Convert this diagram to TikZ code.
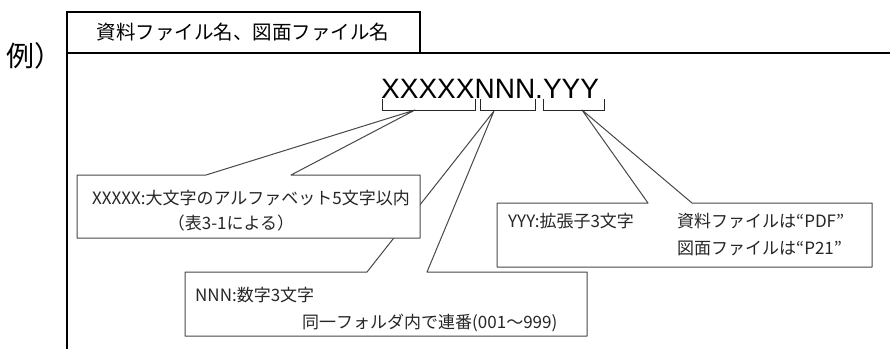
\documentclass[tikz,border=0pt]{standalone}
\usepackage{fontspec}
\setmainfont{Noto Sans CJK JP}
\newfontfamily\latinfont{Liberation Sans}
\begin{document}
\begin{tikzpicture}[x=1pt,y=-1pt,
  callout/.style={draw=black!72, line width=1pt, fill=white, line join=round},
  frame/.style={draw=black, line width=1.2pt},
  bracket/.style={draw=black!85, line width=1pt},
  boxtext/.style={font=\fontsize{17}{20}\selectfont, text=black!85, inner sep=0pt}]
\useasboundingbox (0,0) rectangle (890,349);
% frame and title box
\coordinate (fbl) at (67,349);
\coordinate (ftl) at (67,12);
\coordinate (ftr) at (420,12);
\coordinate (fbr) at (420,53);
\coordinate (fl) at (67,53);
\coordinate (fr) at (890,53);
\draw[frame] (fbl) -- (ftl) -- (ftr) -- (fbr);
\draw[draw=black, line width=2pt] (fl) -- (fbr);
\draw[frame] (fbr) -- (fr);
\node[anchor=west, inner sep=0pt, font=\fontsize{28}{30}\selectfont] (rei) at (6,56) {例）};
\node[inner sep=0pt, font=\fontsize{19.5}{22}\selectfont] (title) at (243,32) {資料ファイル名、図面ファイル名};
\node[anchor=base west, inner sep=0pt, font=\latinfont\fontsize{28}{30}\selectfont] (fname) at (381,98) {XXXXXNNN.YYY};
% apex points
\coordinate (bx) at (415,110);
\coordinate (bn) at (494,111);
\coordinate (by) at (582,110);
% callout 2 (NNN), drawn first so callout 1 covers its wedge
\coordinate (c2a) at (185,272); \coordinate (c2b) at (367,272); \coordinate (c2c) at (427,272);
\coordinate (c2d) at (587,272); \coordinate (c2e) at (587,336); \coordinate (c2f) at (185,336);
\draw[callout] (c2a) -- (c2b) -- (bn) -- (c2c) -- (c2d) -- (c2e) -- (c2f) -- cycle;
% callout 1 (XXXXX)
\coordinate (c1a) at (77,175); \coordinate (c1b) at (206,175); \coordinate (c1c) at (291,175);
\coordinate (c1d) at (420,175); \coordinate (c1e) at (420,238); \coordinate (c1f) at (77,238);
\draw[callout] (c1a) -- (c1b) -- (bx) -- (c1c) -- (c1d) -- (c1e) -- (c1f) -- cycle;
% callout 3 (YYY)
\coordinate (c3a) at (497,203); \coordinate (c3b) at (648,203); \coordinate (c3c) at (692,203);
\coordinate (c3d) at (872,203); \coordinate (c3e) at (872,267); \coordinate (c3f) at (497,267);
\draw[callout] (c3a) -- (c3b) -- (by) -- (c3c) -- (c3d) -- (c3e) -- (c3f) -- cycle;
% brackets
\coordinate (k1a) at (382,99); \coordinate (k1b) at (382,110); \coordinate (k1c) at (475,110); \coordinate (k1d) at (475,99);
\coordinate (k2a) at (480,99); \coordinate (k2b) at (480,110); \coordinate (k2c) at (535,110); \coordinate (k2d) at (535,99);
\coordinate (k3a) at (543,99); \coordinate (k3b) at (543,110); \coordinate (k3c) at (604,110); \coordinate (k3d) at (604,99);
\draw[bracket] (k1a) -- (k1b) -- (k1c) -- (k1d);
\draw[bracket] (k2a) -- (k2b) -- (k2c) -- (k2d);
\draw[bracket] (k3a) -- (k3b) -- (k3c) -- (k3d);
% texts
\node[boxtext, anchor=west] (t1a) at (92,198) {XXXXX:大文字のアルファベット5文字以内};
\node[boxtext] (t1b) at (231,223) {（表3-1による）};
\node[boxtext, anchor=west] (t2a) at (195,295) {NNN:数字3文字};
\node[boxtext, anchor=west] (t2b) at (302,323) {同一フォルダ内で連番(001～999)};
\node[boxtext, anchor=west] (t3a) at (508,221) {YYY:拡張子3文字};
\node[boxtext, anchor=west] (t3b) at (677,221) {資料ファイルは“PDF”};
\node[boxtext, anchor=west] (t3c) at (677,248) {図面ファイルは“P21”};
\end{tikzpicture}
\end{document}
